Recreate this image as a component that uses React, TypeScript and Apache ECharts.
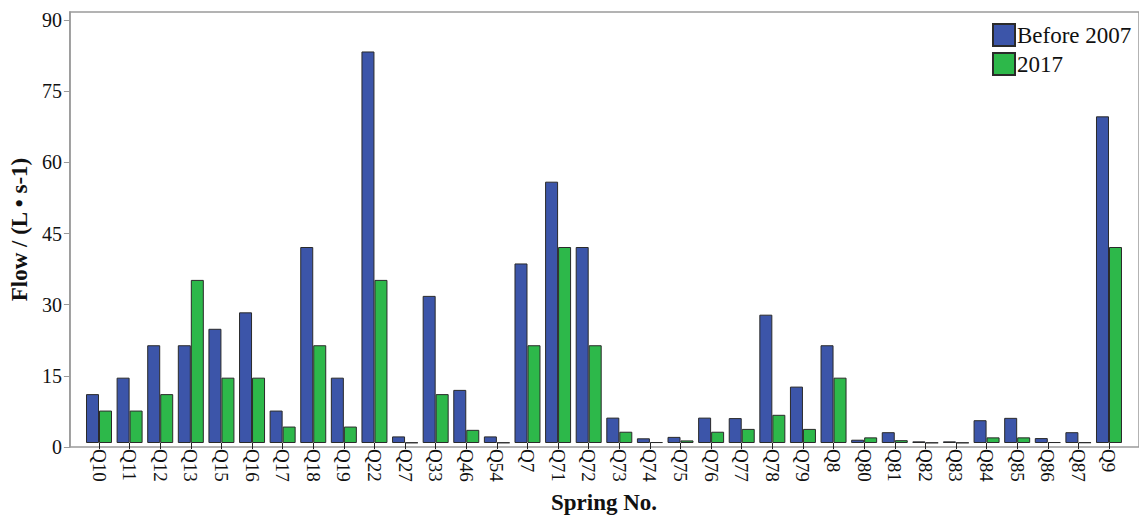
import React, { useEffect, useRef } from "react";
import * as echarts from "echarts";

const categories = [
  "Q10", "Q11", "Q12", "Q13", "Q15", "Q16", "Q17", "Q18", "Q19", "Q22",
  "Q27", "Q33", "Q46", "Q54", "Q7", "Q71", "Q72", "Q73", "Q74", "Q75",
  "Q76", "Q77", "Q78", "Q79", "Q8", "Q80", "Q81", "Q82", "Q83", "Q84",
  "Q85", "Q86", "Q87", "Q9",
];

const before2007 = [
  10.4, 13.9, 20.8, 20.8, 24.3, 27.8, 6.9, 41.7, 13.9, 83.3,
  1.4, 31.3, 11.3, 1.4, 38.2, 55.6, 41.7, 5.4, 1.0, 1.3,
  5.4, 5.3, 27.3, 12.0, 20.8, 0.7, 2.3, 0.35, 0.35, 4.85,
  5.35, 1.05, 2.3, 69.5,
];

const y2017 = [
  6.9, 6.9, 10.4, 34.7, 13.9, 13.9, 3.5, 20.8, 3.5, 34.7,
  0.1, 10.4, 2.8, 0.1, 20.8, 41.7, 20.8, 2.4, 0.2, 0.55,
  2.4, 3.0, 6.0, 3.0, 13.9, 1.2, 0.6, 0.08, 0.08, 1.2,
  1.2, 0.2, 0.15, 41.7,
];

const yTicks = [0, 15, 30, 45, 60, 75, 90];
const Y_TOP = 91.7;

const FONT = "'Liberation Serif', 'Times New Roman', serif";

export default function App() {
  const ref = useRef<HTMLDivElement>(null);

  useEffect(() => {
    if (!ref.current) return;
    const chart = echarts.init(ref.current, null, { renderer: "svg" });
    chart.setOption({
      animation: false,
      backgroundColor: "#ffffff",
      textStyle: { fontFamily: FONT },
      legend: {
        orient: "vertical",
        left: 992,
        top: 23,
        padding: 0,
        itemWidth: 22,
        itemHeight: 22,
        itemGap: 5,
        icon: "rect",
        textStyle: { fontFamily: FONT, fontSize: 23, color: "#111", padding: [0, 0, 0, -3] },
        data: ["Before 2007", "2017"],
      },
      grid: [
        {
          left: 65,
          top: 12,
          right: -1,
          bottom: 72,
          show: true,
          borderColor: "#9a9a9a",
          borderWidth: 1.5,
          backgroundColor: "transparent",
        },
        { left: 83.7, top: 12, right: 14.7, bottom: 72 },
      ],
      xAxis: [
        { gridIndex: 0, type: "value", min: 0, max: 1, show: false },
        {
          gridIndex: 1,
          type: "category",
          data: categories,
          name: "Spring No.",
          nameLocation: "middle",
          nameGap: 48,
          nameTextStyle: { fontFamily: FONT, fontSize: 23, fontWeight: "bold", color: "#111" },
          axisLine: { show: false },
          axisTick: { show: true, alignWithLabel: true, length: 6, lineStyle: { color: "#222" } },
          axisLabel: {
            rotate: -90,
            margin: 6,
            fontFamily: FONT,
            fontSize: 19,
            color: "#111",
            interval: 0,
          },
          splitLine: { show: false },
        },
      ],
      yAxis: [
        {
          gridIndex: 0,
          type: "value",
          min: 0,
          max: Y_TOP,
          interval: 15,
          name: "Flow / (L • s-1)",
          nameLocation: "middle",
          nameGap: 33,
          nameTextStyle: { fontFamily: FONT, fontSize: 23, fontWeight: "bold", color: "#111" },
          axisLine: { show: true, lineStyle: { color: "#9a9a9a", width: 1.5 } },
          axisTick: { show: true, length: 6, lineStyle: { color: "#9a9a9a" } },
          axisLabel: {
            margin: 8,
            fontFamily: FONT,
            fontSize: 20,
            color: "#111",
            showMaxLabel: false,
            formatter: (v: number) => (yTicks.includes(v) ? String(v) : ""),
          },
          splitLine: { show: false },
        },
        { gridIndex: 1, type: "value", min: 0, max: Y_TOP, show: false },
      ],
      series: [
        {
          name: "Before 2007",
          type: "bar",
          xAxisIndex: 1,
          yAxisIndex: 1,
          data: before2007,
          barWidth: 13,
          barGap: "0%",
          itemStyle: { color: "#3c55a9", borderColor: "#2a2a2a", borderWidth: 1 },
        },
        {
          name: "2017",
          type: "bar",
          xAxisIndex: 1,
          yAxisIndex: 1,
          data: y2017,
          barWidth: 13,
          barGap: "0%",
          itemStyle: { color: "#2db84a", borderColor: "#2a2a2a", borderWidth: 1 },
        },
      ],
    });
    return () => chart.dispose();
  }, []);

  return <div ref={ref} style={{ width: 1139, height: 519, position: "absolute", left: 0, top: 0 }} />;
}
